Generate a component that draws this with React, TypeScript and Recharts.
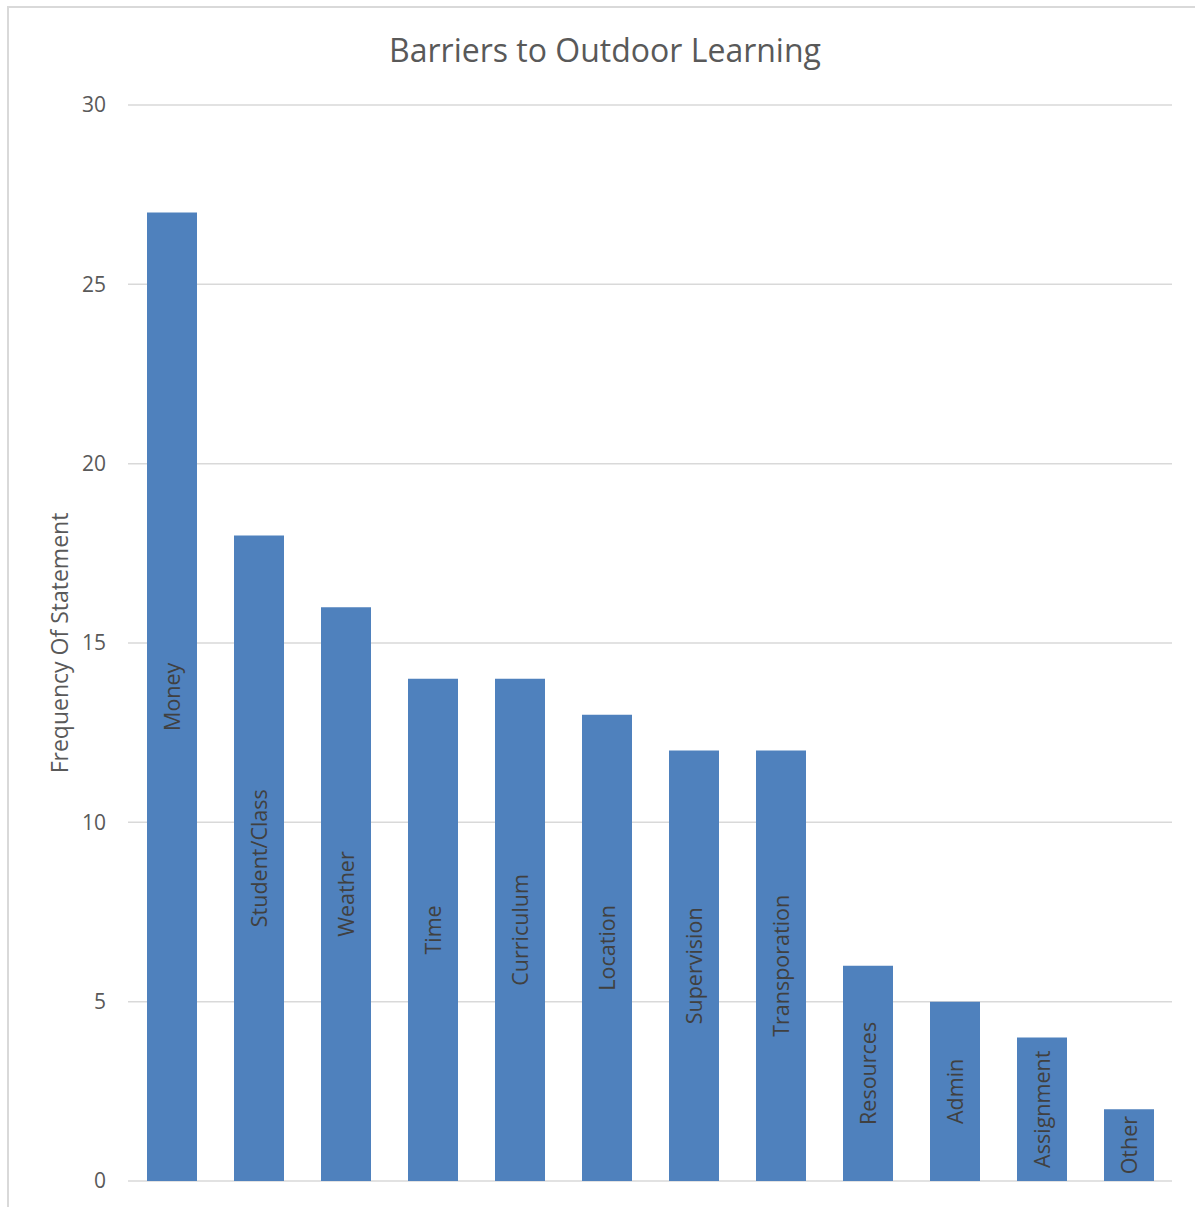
import React from "react";
import { BarChart, Bar, XAxis, YAxis, CartesianGrid, LabelList } from "recharts";

const categories = [
  "Money",
  "Student/Class",
  "Weather",
  "Time",
  "Curriculum",
  "Location",
  "Supervision",
  "Transporation",
  "Resources",
  "Admin",
  "Assignment",
  "Other",
];
const frequencies = [27, 18, 16, 14, 14, 13, 12, 12, 6, 5, 4, 2];
const yTicks = [0, 5, 10, 15, 20, 25, 30];

const data = categories.map((name, i) => ({ name, value: frequencies[i] }));

const FONT = "'Open Sans', 'Liberation Sans', sans-serif";

function InsideLabel(props: any) {
  const { x, y, width, height, value } = props;
  const cx = x + width / 2;
  const cy = y + height / 2;
  return (
    <text
      x={cx}
      y={cy}
      transform={`rotate(-90 ${cx} ${cy})`}
      textAnchor="middle"
      dominantBaseline="central"
      fill="#404040"
      fontSize={21.5}
      fontFamily={FONT}
    >
      {value}
    </text>
  );
}

export default function App() {
  return (
    <div
      style={{
        position: "fixed",
        left: 0,
        top: 0,
        width: 1195,
        height: 1207,
        overflow: "hidden",
        background: "#fff",
      }}
    >
      <div
        style={{
          position: "absolute",
          left: 7,
          top: 6,
          width: 1220,
          height: 1230,
          border: "2px solid #D9D9D9",
        }}
      />
      <div
        style={{
          position: "absolute",
          left: 0,
          top: 30,
          width: 1210,
          textAlign: "center",
          fontFamily: FONT,
          fontSize: 32,
          color: "#595959",
          lineHeight: "40px",
        }}
      >
        Barriers to Outdoor Learning
      </div>
      <div style={{ position: "absolute", left: 0, top: 0 }}>
        <BarChart
          width={1195}
          height={1207}
          data={data}
          margin={{ top: 105, right: 23, bottom: 26, left: 0 }}
          barSize={50}
        >
          <CartesianGrid vertical={false} stroke="#D9D9D9" strokeWidth={1.5} />
          <XAxis
            dataKey="name"
            tick={false}
            tickLine={false}
            height={0}
            axisLine={{ stroke: "#D9D9D9", strokeWidth: 1.5 }}
          />
          <YAxis
            width={128}
            domain={[0, 30]}
            ticks={yTicks}
            interval={0}
            axisLine={false}
            tickLine={false}
            tickSize={0}
            tickMargin={22}
            tick={{ fontSize: 21, fill: "#595959", fontFamily: FONT }}
            label={{
              value: "Frequency Of Statement",
              angle: -90,
              position: "center",
              dx: -4,
              fontSize: 23,
              fill: "#595959",
              fontFamily: FONT,
            }}
          />
          <Bar dataKey="value" fill="#4F81BD" isAnimationActive={false}>
            <LabelList dataKey="name" content={<InsideLabel />} />
          </Bar>
        </BarChart>
      </div>
    </div>
  );
}
